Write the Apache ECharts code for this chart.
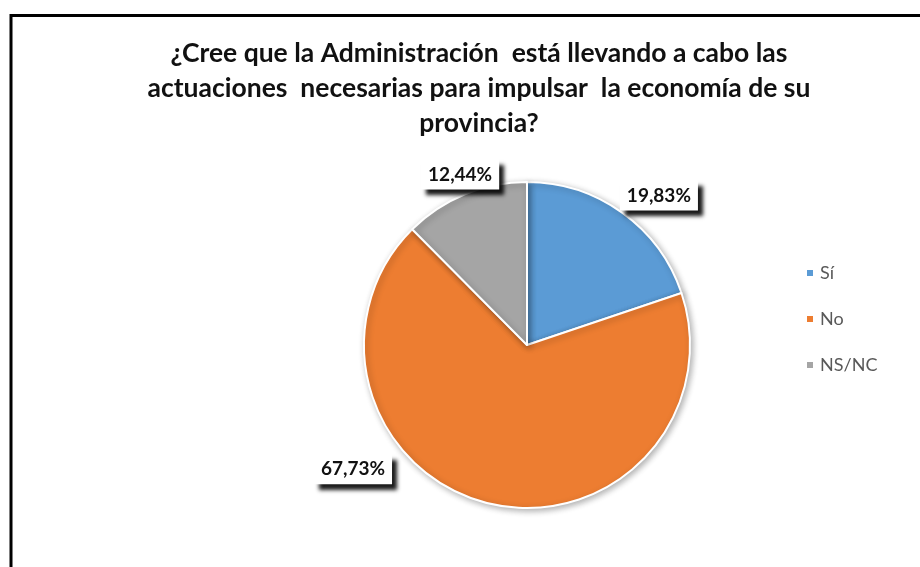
<!DOCTYPE html>
<html><head><meta charset="utf-8">
<script src="https://cdn.jsdelivr.net/npm/echarts@6/dist/echarts.min.js"></script>
<style>html,body{margin:0;padding:0;background:#fff}#c{width:920px;height:567px}</style>
</head><body><div id="c"></div>
<script>
const categories = ['Sí', 'No', 'NS/NC'];
const values = [19.83, 67.73, 12.44];
const colors = ['#5B9BD5', '#ED7D31', '#A5A5A5'];
const titleText = '¿Cree que la Administración  está llevando a cabo las\nactuaciones  necesarias para impulsar  la economía de su\nprovincia?';

const labelOffsets = [[-41, -5], [-64, -49], [70, -6]];

const chart = echarts.init(document.getElementById('c'));
chart.setOption({
  animation: false,
  backgroundColor: '#fff',
  graphic: [{
    type: 'rect', shape: {x: 11, y: 15.5, width: 960, height: 640},
    style: {fill: 'none', stroke: '#000', lineWidth: 3}, z: -1
  }],
  title: {
    text: titleText, left: 474, top: 31, textAlign: 'center',
    textStyle: {fontFamily: 'Lato', fontWeight: 'bold', fontSize: 26.5, color: '#111', lineHeight: 35}
  },
  legend: {
    orient: 'vertical', left: 800, top: 259, itemGap: 28,
    itemWidth: 8, itemHeight: 8, icon: 'rect',
    textStyle: {fontFamily: 'Lato', fontSize: 18, color: '#595959', padding: [0, 0, 0, 1]},
    data: categories
  },
  series: [{
    type: 'pie', center: [527, 345], radius: 163, startAngle: 90, clockwise: true,
    itemStyle: {borderColor: '#fff', borderWidth: 2, shadowBlur: 6, shadowColor: 'rgba(0,0,0,0.3)', shadowOffsetX: 2, shadowOffsetY: 2},
    labelLine: {show: false},
    data: categories.map((c, i) => ({
      name: c, value: values[i], itemStyle: {color: colors[i]},
      label: {offset: labelOffsets[i]}
    })),
    label: {
      show: true, position: 'outside', distanceToLabelLine: 0,
      formatter: p => p.value.toFixed(2).replace('.', ',') + '%',
      fontFamily: 'Lato', fontWeight: 'bold', fontSize: 19, color: '#111',
      backgroundColor: '#fff', padding: [6, 7, 5, 7],
      shadowColor: 'rgba(0,0,0,0.9)', shadowBlur: 4, shadowOffsetX: 5, shadowOffsetY: 6
    }
  }]
});
</script></body></html>
